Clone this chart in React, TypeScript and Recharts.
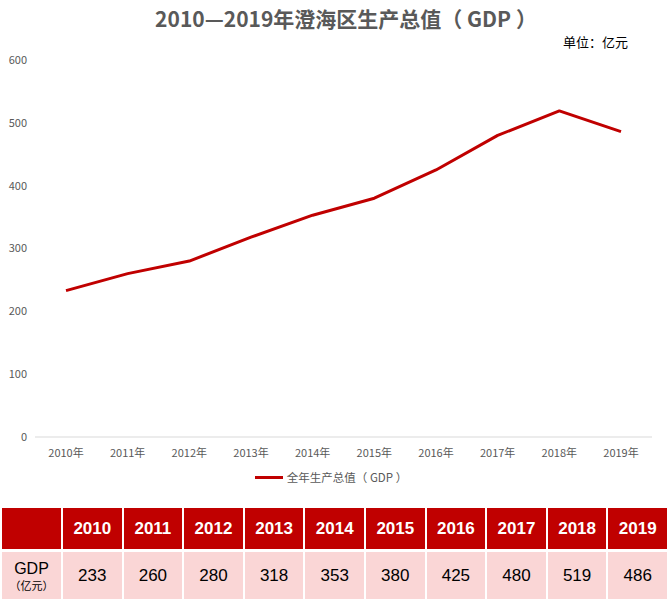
import React from "react";
import { LineChart, Line, XAxis, YAxis, Legend } from "recharts";

const years = ["2010", "2011", "2012", "2013", "2014", "2015", "2016", "2017", "2018", "2019"];
const gdp = [233, 260, 280, 318, 353, 380, 425, 480, 519, 486];
const yTicks = [0, 100, 200, 300, 400, 500, 600];
const title = "2010—2019年澄海区生产总值（ GDP ）";
const unitLabel = "单位：亿元";
const seriesName = "全年生产总值（ GDP ）";

const data = years.map((y, i) => ({ year: y + "年", gdp: gdp[i] }));

const FONT = '"Noto Sans CJK SC", "Noto Sans", sans-serif';
const RED = "#C00000";

const LegendContent = () => (
  <div style={{ display: "flex", justifyContent: "center", alignItems: "center", height: 20, fontFamily: FONT, fontSize: 11.5, color: "#595959", paddingLeft: 10 }}>
    <span style={{ display: "inline-block", width: 28, height: 3, background: RED, marginRight: 4 }} />
    <span>{seriesName}</span>
  </div>
);

export default function App() {
  return (
    <div style={{ position: "absolute", left: 0, top: 0, width: 669, height: 599, background: "#fff", overflow: "hidden", fontFamily: FONT }}>
      <div style={{ position: "absolute", left: 6, top: 4, width: 680, textAlign: "center", fontSize: 21, fontWeight: 700, color: "#595959", lineHeight: "28px" }}>
        {title}
      </div>
      <div style={{ position: "absolute", left: 563, top: 33, fontSize: 13, color: "#000", lineHeight: "18px" }}>{unitLabel}</div>
      <div style={{ position: "absolute", left: 0, top: 0 }}>
        <LineChart width={669} height={500} data={data} margin={{ top: 60, right: 17, left: 0, bottom: 13 }}>
          <XAxis
            dataKey="year"
            axisLine={{ stroke: "#D9D9D9" }}
            tickLine={false}
            tick={{ fontSize: 11, fill: "#595959", fontFamily: FONT }}
            tickMargin={6}
            interval={0}
            padding={{ left: 31, right: 31 }}
          />
          <YAxis
            domain={[0, 600]}
            ticks={yTicks}
            width={35}
            axisLine={false}
            tickLine={false}
            tick={{ fontSize: 11, fill: "#595959", fontFamily: FONT }}
          />
          <Legend verticalAlign="bottom" content={<LegendContent />} />
          <Line
            type="linear"
            dataKey="gdp"
            name={seriesName}
            stroke={RED}
            strokeWidth={3}
            strokeLinejoin="round"
            dot={false}
            activeDot={false}
            isAnimationActive={false}
          />
        </LineChart>
      </div>
      <div
        style={{
          position: "absolute",
          left: 2,
          top: 508,
          width: 665,
          display: "grid",
          gridTemplateColumns: "59px repeat(10, 1fr)",
          gridTemplateRows: "41px 47px",
          columnGap: 2,
          rowGap: 3,
        }}
      >
        <div style={{ background: RED }} />
        {years.map((y) => (
          <div key={"h" + y} style={{ background: RED, color: "#fff", fontWeight: 700, fontSize: 17, display: "flex", alignItems: "center", justifyContent: "center", fontFamily: '"Liberation Sans", sans-serif' }}>
            {y}
          </div>
        ))}
        <div style={{ background: "#FAD6D6", display: "flex", flexDirection: "column", alignItems: "center", justifyContent: "center", color: "#000" }}>
          <div style={{ fontSize: 16, lineHeight: "18px", fontFamily: '"Liberation Sans", sans-serif' }}>GDP</div>
          <div style={{ fontSize: 11, lineHeight: "14px" }}>（亿元）</div>
        </div>
        {gdp.map((v, i) => (
          <div key={"d" + i} style={{ background: "#FAD6D6", color: "#000", fontSize: 17, display: "flex", alignItems: "center", justifyContent: "center", fontFamily: '"Liberation Sans", sans-serif' }}>
            {v}
          </div>
        ))}
      </div>
    </div>
  );
}
